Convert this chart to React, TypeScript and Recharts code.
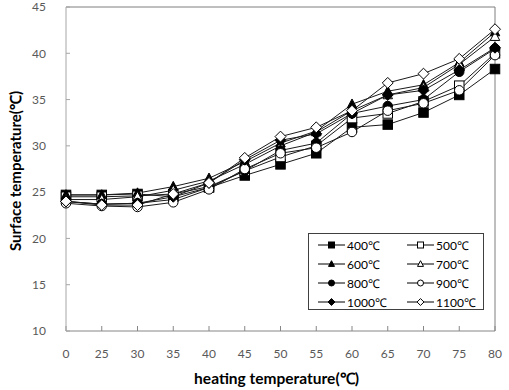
import { LineChart, Line, XAxis, YAxis, ReferenceLine } from 'recharts';

const categories = ['0', '25', '30', '35', '40', '45', '50', '55', '60', '65', '70', '75', '80'];

const s400 = [24.7, 24.7, 24.8, 24.5, 25.5, 26.8, 28.0, 29.2, 32.0, 32.3, 33.6, 35.5, 38.3];
const s500 = [24.5, 24.5, 24.6, 24.8, 25.6, 27.3, 28.8, 30.0, 33.0, 33.5, 34.8, 36.5, 40.0];
const s600 = [24.7, 24.7, 24.9, 25.6, 26.5, 28.3, 30.3, 31.6, 34.5, 35.9, 36.6, 39.0, 42.3];
const s700 = [24.2, 24.2, 24.5, 25.2, 26.2, 28.0, 30.0, 31.5, 33.8, 35.5, 36.3, 38.8, 41.8];
const s800 = [24.0, 23.7, 23.8, 24.2, 25.5, 27.3, 29.5, 30.3, 33.5, 34.3, 35.0, 38.0, 40.5];
const s900 = [23.8, 23.5, 23.4, 23.9, 25.3, 27.5, 29.2, 29.8, 31.5, 33.8, 34.6, 36.0, 39.8];
const s1000 = [24.0, 23.7, 23.8, 24.5, 26.0, 28.5, 30.6, 31.3, 33.5, 35.5, 36.0, 38.2, 40.6];
const s1100 = [24.0, 23.6, 23.6, 24.8, 26.0, 28.7, 31.0, 32.0, 33.8, 36.8, 37.8, 39.4, 42.6];

const yTicks = [10, 15, 20, 25, 30, 35, 40, 45];

type Shape = 'square' | 'triangle' | 'circle' | 'diamond';

const series: { key: string; name: string; values: number[]; shape: Shape; filled: boolean }[] = [
  { key: 's400', name: '400℃', values: s400, shape: 'square', filled: true },
  { key: 's500', name: '500℃', values: s500, shape: 'square', filled: false },
  { key: 's600', name: '600℃', values: s600, shape: 'triangle', filled: true },
  { key: 's700', name: '700℃', values: s700, shape: 'triangle', filled: false },
  { key: 's800', name: '800℃', values: s800, shape: 'circle', filled: true },
  { key: 's900', name: '900℃', values: s900, shape: 'circle', filled: false },
  { key: 's1000', name: '1000℃', values: s1000, shape: 'diamond', filled: true },
  { key: 's1100', name: '1100℃', values: s1100, shape: 'diamond', filled: false },
];

const data = categories.map((c, i) => {
  const row: Record<string, string | number> = { cat: c };
  series.forEach((s) => {
    row[s.key] = s.values[i];
  });
  return row;
});

const FONT = 'Lato, "Open Sans", sans-serif';

function Marker({ shape, filled, cx, cy, size }: { shape: Shape; filled: boolean; cx: number; cy: number; size: number }) {
  const h = size / 2;
  const fill = filled ? '#000' : '#fff';
  const stroke = '#000';
  if (shape === 'square') {
    return <rect x={cx - h} y={cy - h} width={size} height={size} fill={fill} stroke={stroke} strokeWidth={1} />;
  }
  if (shape === 'circle') {
    return <circle cx={cx} cy={cy} r={h} fill={fill} stroke={stroke} strokeWidth={1} />;
  }
  if (shape === 'triangle') {
    const pts = `${cx},${cy - h * 1.1} ${cx + h},${cy + h * 0.8} ${cx - h},${cy + h * 0.8}`;
    return <polygon points={pts} fill={fill} stroke={stroke} strokeWidth={1} />;
  }
  const dh = h * 1.15;
  const pts = `${cx},${cy - dh} ${cx + dh},${cy} ${cx},${cy + dh} ${cx - dh},${cy}`;
  return <polygon points={pts} fill={fill} stroke={stroke} strokeWidth={1} />;
}

function makeDot(shape: Shape, filled: boolean) {
  return (props: { cx?: number; cy?: number; index?: number }) => {
    const { cx, cy, index } = props;
    if (cx == null || cy == null) return <g key={`d-${index}`} />;
    return (
      <g key={`d-${shape}-${filled}-${index}`}>
        <Marker shape={shape} filled={filled} cx={cx} cy={cy} size={9.5} />
      </g>
    );
  };
}

function LegendBox() {
  return (
    <div
      style={{
        position: 'absolute',
        left: 308,
        top: 233,
        width: 174,
        height: 75,
        border: '1px solid #404040',
        background: '#fff',
        fontFamily: FONT,
        fontSize: 12,
        color: '#000',
      }}
    >
      {series.map((s, i) => {
        const col = i % 2;
        const row = Math.floor(i / 2);
        return (
          <div
            key={s.key}
            style={{
              position: 'absolute',
              left: col === 0 ? 9 : 98,
              top: 3 + row * 19,
              height: 16,
              display: 'flex',
              alignItems: 'center',
              whiteSpace: 'nowrap',
            }}
          >
            <svg width={27} height={12} style={{ marginRight: 2 }}>
              <line x1={0} y1={6} x2={27} y2={6} stroke="#000" strokeWidth={1} />
              <Marker shape={s.shape} filled={s.filled} cx={13.5} cy={6} size={6} />
            </svg>
            <span>{s.name}</span>
          </div>
        );
      })}
    </div>
  );
}

export default function App() {
  return (
    <div style={{ position: 'absolute', left: 0, top: 0, width: 509, height: 390, background: '#fff' }}>
      <LineChart width={509} height={390} data={data} margin={{ top: 7, right: 14, bottom: 0, left: 0 }}>
        <XAxis
          dataKey="cat"
          tickSize={-5}
          tickMargin={23}
          interval={0}
          tick={{ fontSize: 12, fill: '#595959', fontFamily: FONT }}
          axisLine={{ stroke: '#868686' }}
          tickLine={{ stroke: '#868686' }}
          height={59}
        />
        <YAxis
          type="number"
          domain={[10, 45]}
          ticks={yTicks}
          interval={0}
          width={66}
          tickSize={-4}
          tickMargin={24}
          tick={{ fontSize: 12, fill: '#595959', fontFamily: FONT }}
          axisLine={{ stroke: '#a6a6a6' }}
          tickLine={{ stroke: '#a6a6a6' }}
        />
        <ReferenceLine y={45} stroke="#7f7f7f" />
        <ReferenceLine x="80" stroke="#7f7f7f" />
        {series.map((s) => (
          <Line
            key={s.key}
            dataKey={s.key}
            name={s.name}
            stroke="#1a1a1a"
            strokeWidth={1}
            dot={makeDot(s.shape, s.filled)}
            activeDot={false}
            isAnimationActive={false}
          />
        ))}
      </LineChart>
      <LegendBox />
      <div
        style={{
          position: 'absolute',
          left: 0,
          top: 367,
          width: 509,
          paddingLeft: 44,
          boxSizing: 'border-box',
          textAlign: 'center',
          fontFamily: FONT,
          fontWeight: 700,
          fontSize: 15.5,
          color: '#000',
        }}
      >
        heating temperature(℃)
      </div>
      <div
        style={{
          position: 'absolute',
          left: 15,
          top: 171,
          transform: 'translate(-50%, -50%) rotate(-90deg)',
          whiteSpace: 'nowrap',
          fontFamily: FONT,
          fontWeight: 700,
          fontSize: 15,
          color: '#000',
        }}
      >
        Surface temperature(℃)
      </div>
    </div>
  );
}
